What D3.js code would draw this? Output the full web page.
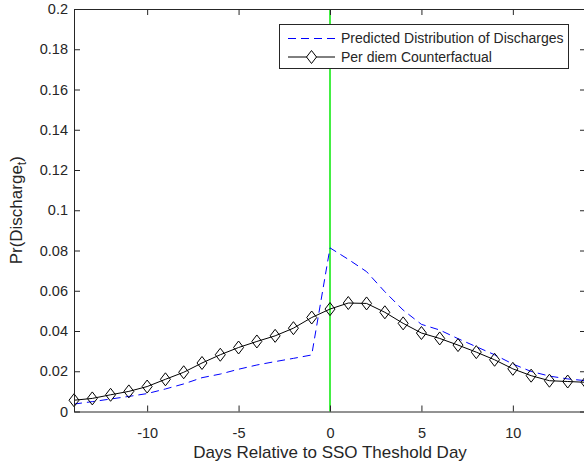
<!DOCTYPE html>
<html><head><meta charset="utf-8">
<script src="https://cdn.jsdelivr.net/npm/d3@7"></script>
<style>
html,body{margin:0;padding:0;background:#fff;}
text{font-family:"Liberation Sans",Arial,sans-serif;fill:#262626;}
</style></head>
<body>
<svg id="chart" width="584" height="468"></svg>
<script>
// ---- data ----
const days = [-14,-13,-12,-11,-10,-9,-8,-7,-6,-5,-4,-3,-2,-1,0,1,2,3,4,5,6,7,8,9,10,11,12,13,14];
const predicted = [0.0037,0.0049,0.0062,0.0075,0.0089,0.0112,0.0137,0.0168,0.0186,0.0210,0.0231,0.0248,0.0264,0.0281,
                   0.0813,0.0756,0.0695,0.0595,0.0504,0.0433,0.0405,0.0362,0.0322,0.0282,0.0236,0.0199,0.0176,0.0162,0.0153];
const counterfactual = [0.0056,0.0065,0.0083,0.0100,0.0124,0.0160,0.0195,0.0241,0.0282,0.0318,0.0348,0.0376,0.0414,0.0467,
                        0.0509,0.0539,0.0537,0.0493,0.0438,0.0390,0.0363,0.0330,0.0295,0.0257,0.0212,0.0178,0.0153,0.0149,0.0145];
const xTicks = [-10,-5,0,5,10];
const xTickLabels = ["-10","-5","0","5","10"];
const yTicks = [0,0.02,0.04,0.06,0.08,0.1,0.12,0.14,0.16,0.18,0.2];
const yTickLabels = ["0","0.02","0.04","0.06","0.08","0.1","0.12","0.14","0.16","0.18","0.2"];
const seriesNames = ["Predicted Distribution of Discharges","Per diem Counterfactual"];
const thresholdDay = 0;

// ---- layout ----
const svg = d3.select("#chart");
const L = 74, R = 586, T = 9, B = 411.5;
const x = d3.scaleLinear().domain([-14,14]).range([L,R]);
const y = d3.scaleLinear().domain([0,0.2]).range([B,T]);
const axisCol = "#262626";
const tickLen = 6;
const dash = "8,5";

// threshold line
svg.append("line").attr("x1",x(thresholdDay)).attr("x2",x(thresholdDay))
  .attr("y1",y(0.2)).attr("y2",y(0)).attr("stroke","#44ee44").attr("stroke-width",2);

// series
const line = d3.line().x((d,i)=>x(days[i])).y(d=>y(d));
svg.append("path").datum(predicted).attr("d",line).attr("fill","none")
  .attr("stroke","#0000ff").attr("stroke-width",1).attr("stroke-dasharray",dash);
svg.append("path").datum(counterfactual).attr("d",line).attr("fill","none")
  .attr("stroke","#000").attr("stroke-width",1);
const diamond = (cx,cy)=>`M${cx},${cy-6.5}L${cx+5},${cy}L${cx},${cy+6.5}L${cx-5},${cy}Z`;
svg.append("g").selectAll("path").data(counterfactual).join("path")
  .attr("d",(d,i)=>diamond(x(days[i]),y(d)))
  .attr("fill","none").attr("stroke","#000").attr("stroke-width",1);

// axes (box, ticks inward)
const gx = svg.append("g").attr("transform",`translate(0,${B})`)
  .call(d3.axisBottom(x).tickValues(xTicks).tickSizeInner(-tickLen).tickSizeOuter(0).tickFormat((d,i)=>xTickLabels[i]));
const gxTop = svg.append("g").attr("transform",`translate(0,${T})`)
  .call(d3.axisTop(x).tickValues(xTicks).tickSizeInner(-tickLen).tickSizeOuter(0).tickFormat(""));
const gy = svg.append("g").attr("transform",`translate(${L},0)`)
  .call(d3.axisLeft(y).tickValues(yTicks).tickSizeInner(-tickLen).tickSizeOuter(0).tickFormat((d,i)=>yTickLabels[i]));
const gyR = svg.append("g").attr("transform",`translate(${R},0)`)
  .call(d3.axisRight(y).tickValues(yTicks).tickSizeInner(-tickLen).tickSizeOuter(0).tickFormat(""));
[gx,gxTop,gy,gyR].forEach(g=>{
  g.selectAll(".domain").attr("stroke",axisCol).attr("stroke-width",1);
  g.selectAll(".tick line").attr("stroke",axisCol).attr("stroke-width",1);
  g.selectAll("text").style("font-family",'"Liberation Sans",Arial,sans-serif').style("font-size","14.5px").attr("fill",axisCol);
});
gx.selectAll("text").attr("dy","0.71em").attr("y",16);
gy.selectAll("text").attr("x",-6);

// axis labels
svg.append("text").attr("x",(L+R)/2).attr("y",458).attr("text-anchor","middle")
  .style("font-size","17px").text("Days Relative to SSO Theshold Day");
const yl = svg.append("text").attr("transform",`translate(22,${(T+B)/2}) rotate(-90)`)
  .attr("text-anchor","middle").style("font-size","17px");
yl.append("tspan").text("Pr(Discharge");
yl.append("tspan").attr("dy",4).style("font-size","12px").text("t");
yl.append("tspan").attr("dy",-4).text(")");

// legend
const lg = svg.append("g");
lg.append("rect").attr("x",279.5).attr("y",24.5).attr("width",289).attr("height",44)
  .attr("fill","#fff").attr("stroke",axisCol).attr("stroke-width",1);
const rows = [{name:seriesNames[0],cy:38.5,col:"#0000ff",dash:dash,mk:false},
              {name:seriesNames[1],cy:57,col:"#000",dash:null,mk:true}];
rows.forEach(r=>{
  lg.append("line").attr("x1",288).attr("x2",335).attr("y1",r.cy).attr("y2",r.cy)
    .attr("stroke",r.col).attr("stroke-width",1).attr("stroke-dasharray",r.dash);
  if(r.mk) lg.append("path").attr("d",diamond(311.5,r.cy)).attr("fill","#fff").attr("stroke","#000");
  lg.append("text").attr("x",341).attr("y",r.cy).attr("dy","0.35em").style("font-size","14px").text(r.name);
});
</script>
</body></html>
